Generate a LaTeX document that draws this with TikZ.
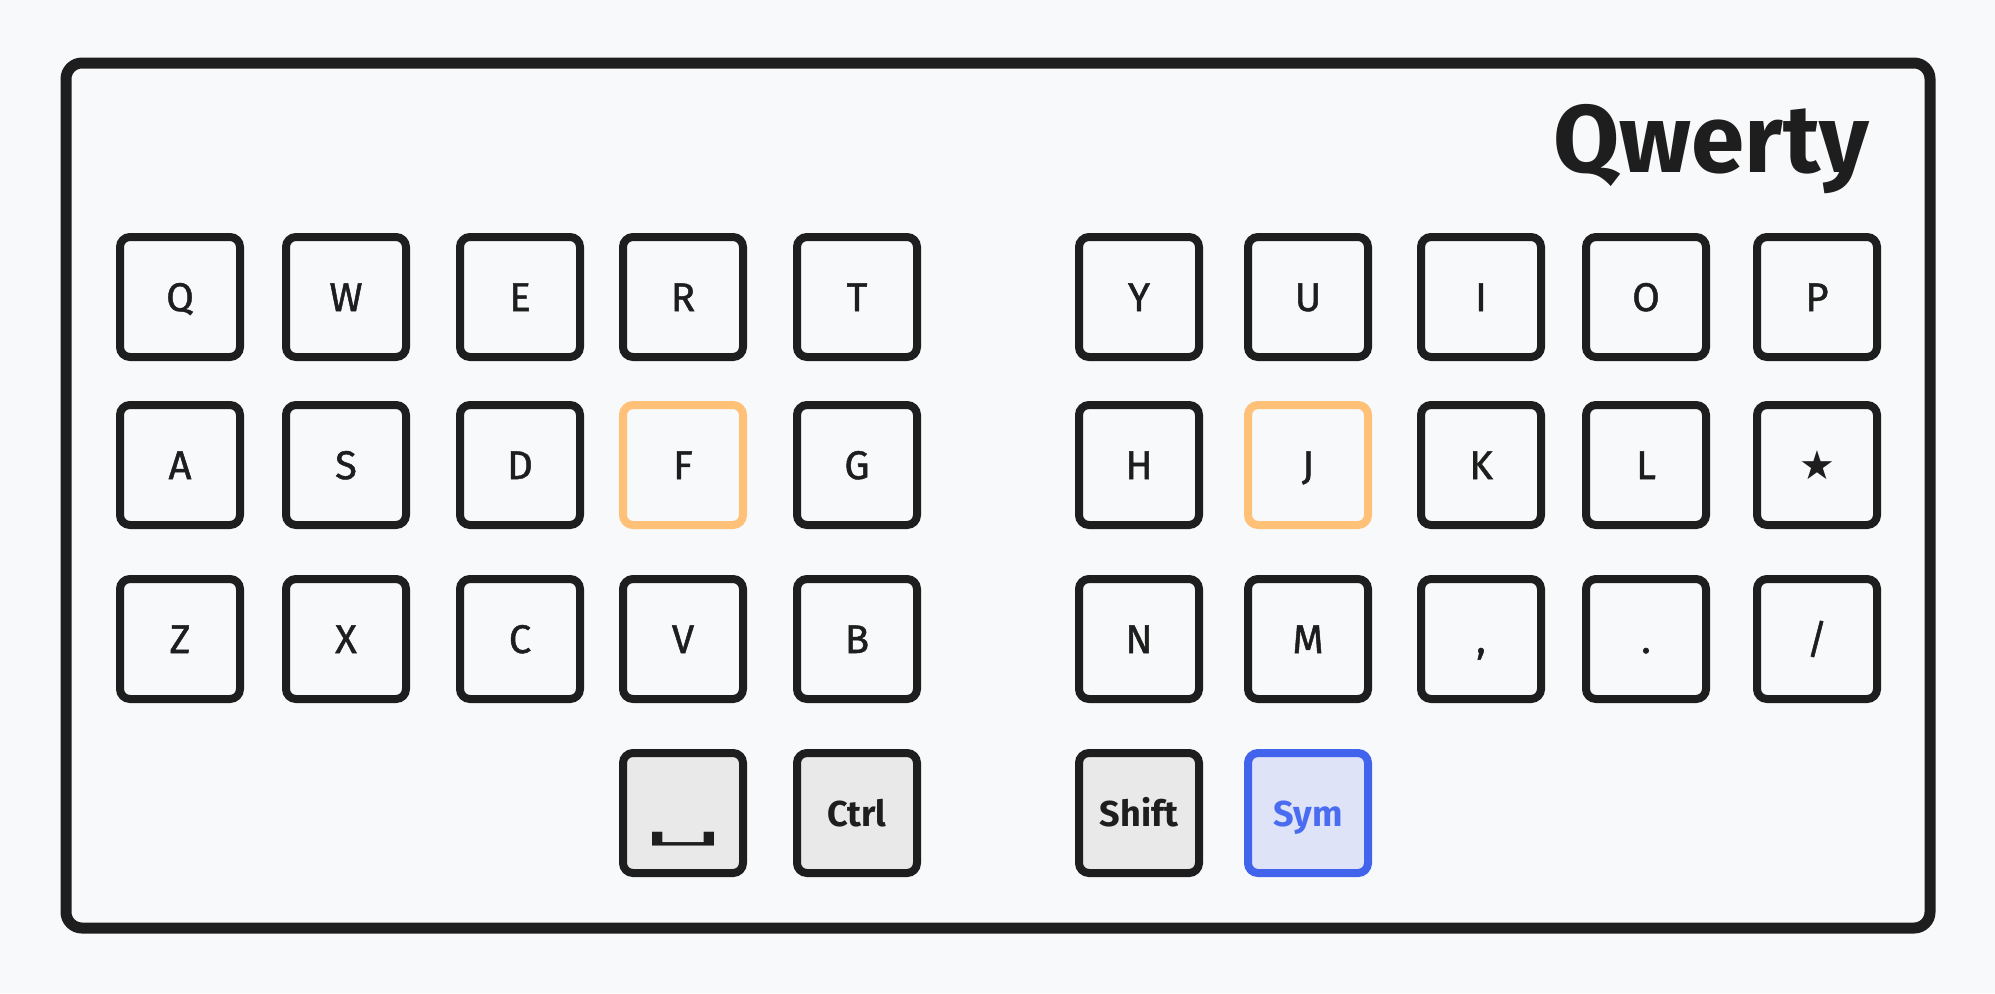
\documentclass[tikz,border=0pt]{standalone}
\usepackage{fontspec}
\setmainfont{Fira Sans}
\newfontfamily\keyfont{Fira Sans}[FakeBold=1.2]
\newfontfamily\symfont{DejaVu Sans}
\definecolor{bg}{HTML}{F8F9FB}
\definecolor{ink}{HTML}{1E1E1E}
\definecolor{homekey}{HTML}{FFC078}
\definecolor{modfill}{HTML}{E9E9E9}
\definecolor{symstroke}{HTML}{4263EB}
\definecolor{symfill}{HTML}{DEE3F8}
\definecolor{symtext}{HTML}{4A6CF0}
\tikzset{
  keycap/.style={draw=ink, line width=4pt, rounded corners=5pt, minimum size=60pt,
    inner sep=0pt, text=ink, font=\keyfont\fontsize{20}{24}\selectfont, text height=14pt, text depth=0pt},
  homecap/.style={keycap, draw=homekey},
  modcap/.style={keycap, fill=modfill, font=\bfseries\fontsize{18}{22}\selectfont, text height=13pt},
  symcap/.style={keycap, draw=symstroke, fill=symfill, text=symtext, font=\bfseries\fontsize{18}{22}\selectfont, text height=13pt},
  frame/.style={draw=ink, line width=5.5pt, rounded corners=8pt},
  title/.style={anchor=base east, text=ink, font=\bfseries\fontsize{48}{54}\selectfont, inner sep=0pt}
}
\begin{document}
\begin{tikzpicture}[x=0.5pt,y=-0.5pt]
\fill[bg] (0,0) rectangle (1995,993);
\useasboundingbox (0,0) rectangle (1995,993);
\draw[frame] (66,63) rectangle (1930,928);
\node[title] (ttl) at (1870,172) {Qwerty};
% row 1
\node[keycap] (q) at (180,297) {Q};
\node[keycap] (w) at (346,297) {W};
\node[keycap] (e) at (520,297) {E};
\node[keycap] (r) at (683,297) {R};
\node[keycap] (t) at (857,297) {T};
\node[keycap] (y) at (1139,297) {Y};
\node[keycap] (u) at (1308,297) {U};
\node[keycap] (i) at (1481,297) {I};
\node[keycap] (o) at (1646,297) {O};
\node[keycap] (p) at (1817,297) {P};
% row 2
\node[keycap] (a) at (180,465) {A};
\node[keycap] (s) at (346,465) {S};
\node[keycap] (d) at (520,465) {D};
\node[homecap] (f) at (683,465) {F};
\node[keycap] (g) at (857,465) {G};
\node[keycap] (h) at (1139,465) {H};
\node[homecap] (j) at (1308,465) {J};
\node[keycap] (k) at (1481,465) {K};
\node[keycap] (l) at (1646,465) {L};
\node[keycap, font=\symfont\fontsize{20}{24}\selectfont] (star) at (1817,465) {★};
% row 3
\node[keycap] (z) at (180,639) {Z};
\node[keycap] (x) at (346,639) {X};
\node[keycap] (c) at (520,639) {C};
\node[keycap] (v) at (683,639) {V};
\node[keycap] (b) at (857,639) {B};
\node[keycap] (n) at (1139,639) {N};
\node[keycap] (m) at (1308,639) {M};
\node[keycap] (comma) at (1481,639) {,};
\node[keycap] (dot) at (1646,639) {.};
\node[keycap] (slash) at (1817,639) {/};
% row 4
\node[modcap, font=\symfont\fontsize{30}{34}\selectfont] (space) at (683,813) {\raisebox{-5pt}{\scalebox{2.1}[0.7]{␣}}};
\node[modcap] (ctrl) at (857,813) {Ctrl};
\node[modcap] (shift) at (1139,813) {Shift};
\node[symcap] (sym) at (1308,813) {Sym};
\end{tikzpicture}
\end{document}
